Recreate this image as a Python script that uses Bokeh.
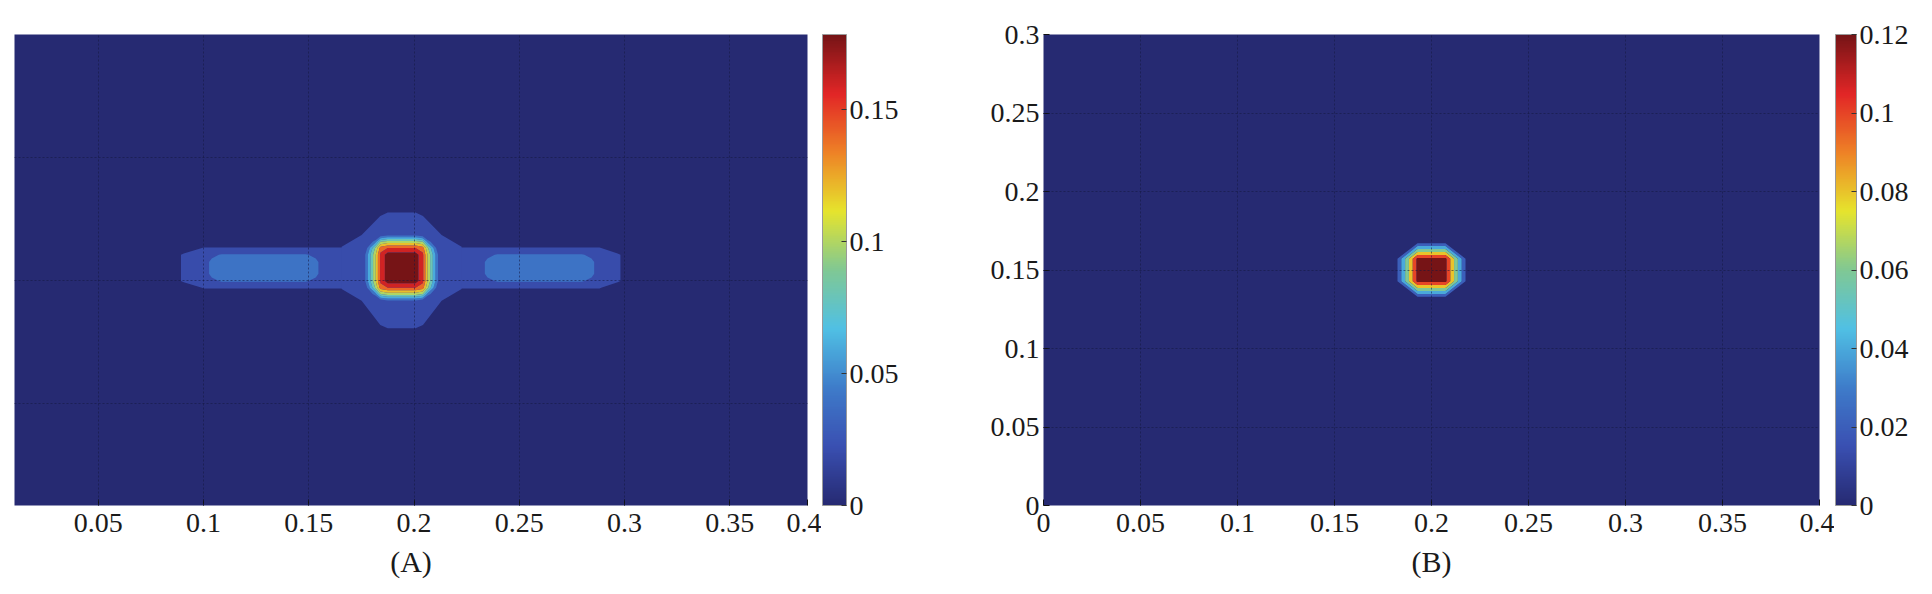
import numpy as np
from bokeh.plotting import figure
from bokeh.models import ColorBar, LinearColorMapper, FixedTicker
from bokeh.layouts import row
from bokeh.embed import file_html
from bokeh.resources import INLINE

# ---------------- data ----------------
# Panel (A): filled contour field, given as mesh nodes + node values
# horizontal arm (outer band)
armA_x = [0.0840, 0.0906, 0.1001, 0.2881, 0.2967, 0.3034]
armA_y = [0.1445, 0.1470, 0.1498, 0.1604, 0.1632, 0.1657]
armA_z = [
    [0, 0, 0, 0, 0, 0],
    [0, 0, 0.022, 0.022, 0, 0],
    [0, 0.025, 0.030, 0.030, 0.025, 0],
    [0, 0.025, 0.030, 0.030, 0.025, 0],
    [0, 0, 0.022, 0.022, 0, 0],
    [0, 0, 0, 0, 0, 0],
]
# vertical arm (outer band)
vertA_x = [0.1656, 0.1751, 0.1875, 0.2007, 0.2131, 0.2226]
vertA_y = [0.1271, 0.1319, 0.1417, 0.1470, 0.1632, 0.1685, 0.1762, 0.1811]
vertA_z = [
    [0, 0, 0, 0, 0, 0],
    [0, 0, 0.028, 0.028, 0, 0],
    [0, 0.020, 0.035, 0.035, 0.020, 0],
    [0.022, 0.030, 0.030, 0.030, 0.030, 0.022],
    [0.022, 0.030, 0.030, 0.030, 0.030, 0.022],
    [0, 0.020, 0.035, 0.035, 0.020, 0],
    [0, 0, 0.028, 0.028, 0, 0],
    [0, 0, 0, 0, 0, 0],
]
# side lobes
lobeA_x = [0.1001, 0.1039, 0.1086, 0.1485, 0.1533, 0.1571,
           0.2311, 0.2349, 0.2397, 0.2796, 0.2843, 0.2881]
lobeA_y = [0.1470, 0.1498, 0.1527, 0.1575, 0.1604, 0.1632]
lobeA_z = [
    [0.022] * 12,
    [0.030, 0.035, 0.042, 0.042, 0.035, 0.030, 0.030, 0.035, 0.042, 0.042, 0.035, 0.030],
    [0.030, 0.045, 0.048, 0.048, 0.045, 0.030, 0.030, 0.045, 0.048, 0.048, 0.045, 0.030],
    [0.030, 0.045, 0.048, 0.048, 0.045, 0.030, 0.030, 0.045, 0.048, 0.048, 0.045, 0.030],
    [0.030, 0.035, 0.042, 0.042, 0.035, 0.030, 0.030, 0.035, 0.042, 0.042, 0.035, 0.030],
    [0.022] * 12,
]
# central peak
coreA_x = [0.1765, 0.1818, 0.1841, 0.1875, 0.2007, 0.2041, 0.2064, 0.2117]
coreA_y = [0.1417, 0.1445, 0.1470, 0.1498, 0.1604, 0.1632, 0.1657, 0.1685]
coreA_z = [
    [0, 0, 0.025, 0.035, 0.035, 0.025, 0, 0],
    [0, 0.055, 0.100, 0.110, 0.110, 0.100, 0.055, 0],
    [0.020, 0.105, 0.150, 0.160, 0.160, 0.150, 0.105, 0.020],
    [0.035, 0.120, 0.165, 0.190, 0.190, 0.165, 0.120, 0.035],
    [0.035, 0.120, 0.165, 0.190, 0.190, 0.165, 0.120, 0.035],
    [0.020, 0.105, 0.150, 0.160, 0.160, 0.150, 0.105, 0.020],
    [0, 0.055, 0.100, 0.110, 0.110, 0.100, 0.055, 0],
    [0, 0, 0.025, 0.035, 0.035, 0.025, 0, 0],
]
levels_A = [0.02, 0.04, 0.06, 0.08, 0.10, 0.12, 0.14, 0.16, 0.18, 0.25]
cmax_A = 0.1786

# Panel (B)
coreB_x = [0.1805, 0.1928, 0.2072, 0.2195]
coreB_y = [0.1310, 0.1428, 0.1572, 0.1690]
coreB_z = [
    [0, 0, 0, 0],
    [0, 0.125, 0.125, 0],
    [0, 0.125, 0.125, 0],
    [0, 0, 0, 0],
]
levels_B = [0.02, 0.04, 0.06, 0.08, 0.10, 0.12, 0.20]
cmax_B = 0.12

# axes / ticks
xrange_A = (0.0102, 0.3869)
yrange_A = (0.0585, 0.2500)
xticks_A = [0.05, 0.1, 0.15, 0.2, 0.25, 0.3, 0.35, 0.3869]
xlabels_A = ["0.05", "0.1", "0.15", "0.2", "0.25", "0.3", "0.35", "0.4"]
xgrid_A = [0.05, 0.1, 0.15, 0.2, 0.25, 0.3, 0.35]
ygrid_A = [0.1, 0.15, 0.2]
cbticks_A = [0, 0.05, 0.1, 0.15]
cblabels_A = ["0", "0.05", "0.1", "0.15"]

xrange_B = (0.0, 0.4)
yrange_B = (0.0, 0.3)
xticks_B = [0, 0.05, 0.1, 0.15, 0.2, 0.25, 0.3, 0.35, 0.4]
xlabels_B = ["0", "0.05", "0.1", "0.15", "0.2", "0.25", "0.3", "0.35", "0.4"]
yticks_B = [0, 0.05, 0.1, 0.15, 0.2, 0.25, 0.3]
ylabels_B = ["0", "0.05", "0.1", "0.15", "0.2", "0.25", "0.3"]
cbticks_B = [0, 0.02, 0.04, 0.06, 0.08, 0.1, 0.12]
cblabels_B = ["0", "0.02", "0.04", "0.06", "0.08", "0.1", "0.12"]

# ---------------- styling ----------------
FONT = "Liberation Serif"
TICK_FS = "28px"
ANCHORS = [
    (0.000, (38, 42, 114)),
    (0.125, (58, 80, 178)),
    (0.250, (62, 124, 202)),
    (0.375, (80, 192, 228)),
    (0.500, (128, 200, 148)),
    (0.625, (230, 228, 45)),
    (0.750, (238, 130, 38)),
    (0.875, (226, 38, 38)),
    (1.000, (118, 20, 22)),
]


def washed_jet(t):
    t = min(max(t, 0.0), 1.0)
    for (t0, c0), (t1, c1) in zip(ANCHORS[:-1], ANCHORS[1:]):
        if t <= t1:
            f = (t - t0) / (t1 - t0)
            return "#%02x%02x%02x" % tuple(int(round(a + (b - a) * f)) for a, b in zip(c0, c1))
    return "#%02x%02x%02x" % ANCHORS[-1][1]


PALETTE = [washed_jet(i / 255) for i in range(256)]


def band_colors(levels, cmax):
    return [washed_jet(l / cmax) for l in levels[:-1]]


FRAME_H = 471
TOP = 34
BOTTOM = 80


def style_axis(ax):
    ax.major_label_text_font = FONT
    ax.major_label_text_font_size = TICK_FS
    ax.major_label_text_color = "#1a1a1a"
    ax.major_tick_in = 6
    ax.major_tick_out = 0
    ax.major_tick_line_color = "#111111"
    ax.minor_tick_line_color = None
    ax.axis_line_color = None
    ax.major_label_standoff = 8
    ax.axis_label_text_font = FONT
    ax.axis_label_text_font_size = "30px"
    ax.axis_label_text_font_style = "normal"
    ax.axis_label_text_color = "#1a1a1a"
    ax.axis_label_standoff = 10


def style_grid(g, ticks):
    g.ticker = FixedTicker(ticks=ticks)
    g.grid_line_color = "#14173f"
    g.grid_line_dash = "2 2"
    g.grid_line_alpha = 0.55
    g.level = "overlay"


def make_main(frame_w, xr, yr, left, right):
    p = figure(frame_width=frame_w, frame_height=FRAME_H, x_range=xr, y_range=yr,
               min_border_left=left, min_border_right=right,
               min_border_top=TOP, min_border_bottom=BOTTOM,
               toolbar_location=None, output_backend="svg",
               background_fill_color=washed_jet(0.0), outline_line_color=None)
    return p


def make_cbar(mapper, ticks, labels, bar_w, right):
    f = figure(frame_width=1, frame_height=FRAME_H, min_border_left=0,
               min_border_right=right, min_border_top=TOP, min_border_bottom=BOTTOM,
               toolbar_location=None, output_backend="svg", outline_line_color=None)
    f.axis.visible = False
    f.grid.visible = False
    cb = ColorBar(color_mapper=mapper, width=bar_w, padding=0, margin=0,
                  ticker=FixedTicker(ticks=ticks),
                  major_label_overrides=dict(zip(ticks, labels)),
                  major_label_text_font=FONT, major_label_text_font_size=TICK_FS,
                  major_label_text_color="#1a1a1a", label_standoff=3,
                  major_tick_in=5, major_tick_out=0, major_tick_line_color="#333333",
                  minor_tick_line_color=None,
                  bar_line_color="#9a9a9a", border_line_color=None)
    f.add_layout(cb, "right")
    return f


# ---------------- panel A ----------------
pA = make_main(793, xrange_A, yrange_A, 14, 14)
colA = band_colors(levels_A, cmax_A)
pA.contour(armA_x, armA_y, np.array(armA_z), [0.02, 0.25], fill_color=[colA[0]])
pA.contour(vertA_x, vertA_y, np.array(vertA_z), [0.02, 0.25], fill_color=[colA[0]])
pA.contour(lobeA_x, lobeA_y, np.array(lobeA_z), [0.04, 0.25], fill_color=[colA[1]])
pA.contour(coreA_x, coreA_y, np.array(coreA_z), levels_A[1:], fill_color=colA[1:])
pA.yaxis.visible = False
pA.xaxis.ticker = FixedTicker(ticks=xticks_A)
pA.xaxis.major_label_overrides = dict(zip(xticks_A, xlabels_A))
pA.xaxis.axis_label = "(A)"
style_axis(pA.xaxis)
style_grid(pA.xgrid, xgrid_A)
style_grid(pA.ygrid, ygrid_A)

mapA = LinearColorMapper(palette=PALETTE, low=0, high=cmax_A)
cbA = make_cbar(mapA, cbticks_A, cblabels_A, 24, 121)

# ---------------- panel B ----------------
pB = make_main(776, xrange_B, yrange_B, 100, 15)
colB = band_colors(levels_B, cmax_B)
pB.contour(coreB_x, coreB_y, np.array(coreB_z), levels_B, fill_color=colB)
pB.xaxis.ticker = FixedTicker(ticks=xticks_B)
pB.xaxis.major_label_overrides = dict(zip(xticks_B, xlabels_B))
pB.yaxis.ticker = FixedTicker(ticks=yticks_B)
pB.yaxis.major_label_overrides = dict(zip(yticks_B, ylabels_B))
pB.xaxis.axis_label = "(B)"
style_axis(pB.xaxis)
style_axis(pB.yaxis)
pB.yaxis.major_label_standoff = 4
style_grid(pB.xgrid, xticks_B[1:-1])
style_grid(pB.ygrid, yticks_B[1:-1])

mapB = LinearColorMapper(palette=PALETTE, low=0, high=cmax_B)
cbB = make_cbar(mapB, cbticks_B, cblabels_B, 21, 66)

layout = row(pA, cbA, pB, cbB, spacing=0)
open("out.html", "w").write(file_html(layout, INLINE))
